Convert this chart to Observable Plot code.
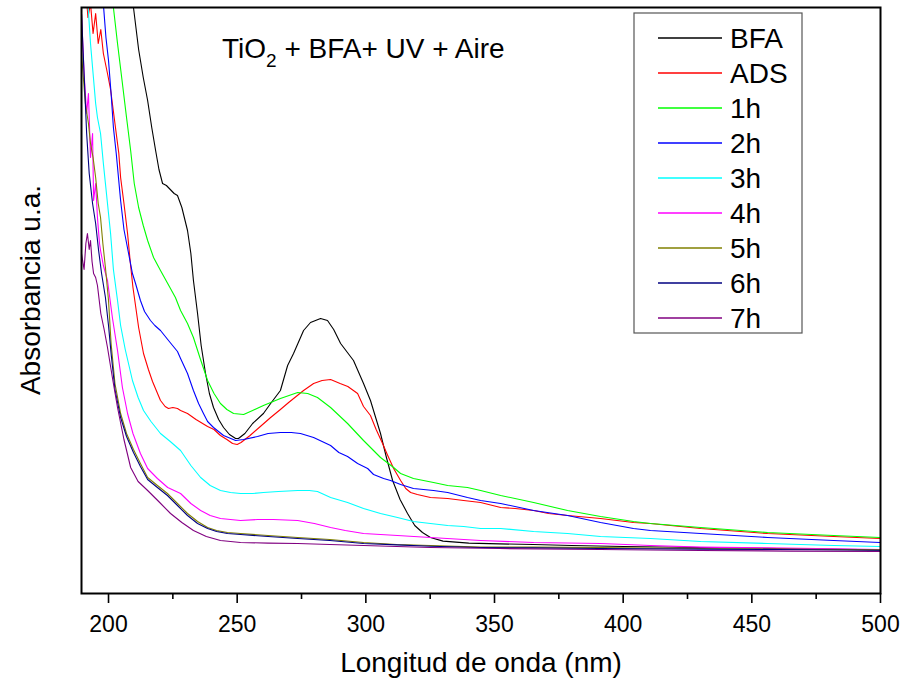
<!DOCTYPE html>
<html><head><meta charset="utf-8">
<script src="https://cdn.jsdelivr.net/npm/d3@7"></script>
<script src="https://cdn.jsdelivr.net/npm/@observablehq/plot@0.6"></script>
<style>body{margin:0;background:#fff} #chart{position:relative;width:904px;height:681px}</style>
</head><body><div id="chart"></div>
<script>
// Wavelength (nm), absorbance (arbitrary units) pairs
const BFA = [[189.5,4.6],[200,3.7],[205,3.25],[209.7,2.93],[211.7,2.72],[213.5,2.58],[215.2,2.465],[216.8,2.33],[218.3,2.215],[219.6,2.12],[221,2.05],[222.5,2.04],[224,2.02],[225.5,2.0],[226.8,1.99],[228.5,1.93],[230.7,1.815],[232,1.7],[233,1.565],[234.6,1.40],[236,1.24],[237.7,1.10],[239.2,1.0],[240.8,0.93],[242.8,0.87],[244.7,0.83],[247,0.795],[249.4,0.775],[250.5,0.775],[253,0.80],[256,0.85],[260.2,0.90],[263,0.95],[266.8,1.015],[269.6,1.14],[271.9,1.20],[275.8,1.315],[278.5,1.355],[282.4,1.375],[285.1,1.365],[287.5,1.32],[290.2,1.25],[295.2,1.165],[299.1,1.05],[301.8,0.965],[305.7,0.80],[308,0.68],[310.4,0.565],[313.3,0.47],[316.2,0.40],[319,0.34],[322,0.305],[325.1,0.28],[330,0.262],[340,0.252],[352,0.248],[365,0.245],[380,0.24],[400,0.235],[430,0.23],[460,0.225],[500,0.218]];
const ADS = [[189.5,3.3],[191,3.05],[192,2.88],[193,2.95],[194,2.8],[195,2.9],[196,2.75],[197,2.82],[198,2.70],[199.6,2.6],[200.8,2.52],[201.6,2.44],[202.7,2.33],[204,2.2],[204.7,2.08],[206,1.95],[207.4,1.80],[208.5,1.65],[209.5,1.53],[211.7,1.33],[213.6,1.20],[215.5,1.12],[217.1,1.06],[220.2,0.965],[222,0.935],[223.3,0.925],[225,0.93],[226.8,0.925],[228,0.915],[230.7,0.90],[234,0.87],[238.5,0.835],[241,0.82],[243.5,0.79],[246,0.77],[248.2,0.75],[250,0.745],[251.5,0.755],[255,0.79],[259,0.835],[263,0.88],[266.8,0.92],[270,0.955],[275.8,1.015],[279.7,1.05],[283,1.065],[286.3,1.07],[290,1.05],[293,1.035],[296.8,1.00],[299.1,0.935],[301.8,0.89],[304,0.82],[306.5,0.75],[308.5,0.69],[310.8,0.625],[313.5,0.565],[315.5,0.525],[317.4,0.505],[320,0.495],[325.1,0.48],[331.8,0.475],[338,0.465],[344.6,0.455],[352.4,0.43],[358,0.425],[365.2,0.415],[371,0.40],[378.4,0.39],[391.2,0.375],[404,0.355],[410.6,0.35],[430.1,0.325],[456.1,0.30],[481.8,0.285],[500,0.275]];
const H1 = [[189.5,4.2],[196,3.4],[201.9,2.93],[203.5,2.75],[205.4,2.55],[207,2.38],[208.6,2.215],[210,2.05],[211.7,1.93],[213.5,1.84],[215.2,1.765],[217.5,1.68],[220.2,1.615],[223,1.55],[226,1.48],[228,1.415],[230.7,1.35],[233,1.28],[235.5,1.18],[238.5,1.065],[241,1.0],[243.5,0.95],[246,0.92],[248.6,0.90],[252.5,0.895],[256,0.915],[260.2,0.94],[266.8,0.975],[273.5,1.005],[277.4,1.0],[281.2,0.98],[286.3,0.93],[292.9,0.85],[299.1,0.765],[305.7,0.68],[310.8,0.63],[313.5,0.60],[318.5,0.575],[326.3,0.555],[331.8,0.54],[339.5,0.53],[344.6,0.515],[352.4,0.49],[365.2,0.455],[378.4,0.415],[391.2,0.385],[404,0.36],[410.6,0.35],[430.1,0.33],[456.1,0.305],[481.8,0.29],[500,0.28]];
const H2 = [[189.5,3.7],[195,3.2],[198.1,2.93],[199,2.78],[200,2.665],[201,2.5],[201.9,2.33],[203,2.2],[204.7,1.965],[206,1.82],[207.8,1.70],[209.3,1.60],[210.5,1.55],[212.4,1.465],[214,1.41],[216.3,1.365],[218,1.34],[220.2,1.315],[223,1.27],[226.8,1.21],[228,1.175],[230.7,1.10],[233,1.015],[235,0.95],[236.9,0.90],[238.5,0.86],[240.8,0.83],[244.7,0.79],[249.4,0.765],[252.5,0.77],[257.9,0.785],[262,0.80],[266.8,0.805],[271,0.805],[274.6,0.80],[279.7,0.78],[283,0.76],[286.3,0.74],[289.5,0.705],[292.9,0.685],[296.8,0.65],[300.7,0.625],[303,0.595],[306.9,0.575],[309.6,0.565],[313.5,0.545],[318.5,0.525],[326.3,0.515],[331.8,0.505],[339.5,0.48],[344.6,0.465],[352.4,0.45],[365.2,0.415],[378.4,0.39],[391.2,0.355],[404,0.325],[410.6,0.315],[430.1,0.30],[456.1,0.28],[481.8,0.265],[500,0.255]];
const H3 = [[189.5,3.4],[191,3.1],[192,2.95],[193,2.75],[194,2.6],[195,2.45],[195.7,2.38],[196.9,2.30],[198,2.15],[198.8,2.05],[200,1.90],[200.8,1.80],[201.9,1.62],[203.5,1.465],[204.7,1.34],[206.5,1.22],[209.3,1.065],[211.5,0.98],[213.6,0.915],[216.5,0.86],[220.2,0.80],[224,0.76],[228,0.715],[232,0.64],[235.8,0.58],[239.5,0.54],[243.5,0.515],[247.4,0.505],[251.3,0.50],[256,0.50],[260.2,0.505],[266,0.51],[273.5,0.515],[278,0.515],[281.2,0.51],[286.3,0.48],[292.9,0.455],[299.1,0.425],[305.7,0.40],[312.3,0.38],[318.5,0.36],[325.1,0.35],[331.8,0.34],[338,0.335],[344.6,0.325],[352.4,0.325],[365.2,0.31],[378.4,0.30],[391.2,0.285],[410.6,0.275],[430.1,0.26],[456.1,0.25],[481.8,0.24],[500,0.235]];
const H4 = [[189.5,2.9],[190.5,2.6],[191.5,2.4],[192.2,2.5],[193,2.18],[193.8,2.3],[194.2,1.965],[195,2.05],[195.7,1.88],[196.5,1.75],[196.9,1.715],[198,1.64],[199.6,1.565],[201.5,1.38],[203.5,1.215],[205.4,1.03],[207.4,0.90],[209.5,0.80],[212.4,0.70],[215.2,0.625],[219,0.575],[223,0.53],[228,0.50],[232,0.45],[235.8,0.415],[239.5,0.39],[243.5,0.375],[251.3,0.365],[258,0.37],[264.1,0.37],[273.5,0.365],[280,0.35],[286.3,0.33],[292,0.315],[299.1,0.30],[305.7,0.295],[312.3,0.29],[325.1,0.28],[344.6,0.265],[365.2,0.255],[391.2,0.25],[410.6,0.24],[430.1,0.232],[456.1,0.228],[481.8,0.224],[500,0.22]];
const H5 = [[189.5,2.7],[191,2.45],[192.2,2.35],[193,2.25],[194,2.18],[195,2.08],[196,1.95],[196.9,1.88],[197.8,1.75],[198.8,1.63],[200,1.465],[201,1.25],[202.5,1.05],[204.7,0.90],[207,0.80],[209.7,0.72],[212.4,0.65],[215.2,0.58],[219,0.54],[222.9,0.50],[226.8,0.45],[230.7,0.40],[234.6,0.36],[238.5,0.33],[242,0.315],[246.2,0.305],[251.3,0.30],[262,0.29],[273.5,0.28],[286,0.27],[299.1,0.255],[312,0.245],[325.1,0.24],[344.6,0.232],[365,0.232],[391,0.23],[430,0.225],[460,0.222],[500,0.218]];
const H6 = [[189.5,2.9],[190.5,2.6],[191.5,2.3],[192.5,2.1],[193.8,1.95],[195,1.85],[196.1,1.72],[197.3,1.6],[198.8,1.48],[200,1.34],[201,1.2],[202.5,1.02],[204.7,0.88],[207,0.785],[209.7,0.705],[212.4,0.635],[215.2,0.57],[219,0.53],[222.9,0.49],[226.8,0.44],[230.7,0.39],[234.6,0.35],[238.5,0.325],[242,0.31],[246.2,0.30],[251.3,0.295],[262,0.285],[273.5,0.275],[286,0.265],[299.1,0.25],[312,0.243],[325.1,0.236],[344.6,0.23],[365,0.228],[391,0.225],[430,0.222],[460,0.22],[500,0.216]];
const H7 = [[189.5,1.7],[190.5,1.62],[191.2,1.75],[191.8,1.80],[192.5,1.72],[193,1.765],[193.6,1.66],[194.2,1.60],[195,1.58],[195.7,1.54],[197,1.40],[198.3,1.32],[199.6,1.23],[201.5,1.08],[203.5,0.93],[206,0.77],[208.6,0.63],[211.5,0.56],[215.2,0.515],[219.5,0.46],[224.1,0.40],[228.5,0.355],[233,0.315],[238,0.285],[243.5,0.265],[251.3,0.255],[262,0.252],[273.5,0.25],[286,0.245],[299.1,0.24],[312,0.235],[325.1,0.23],[352,0.225],[391,0.22],[430,0.215],[465,0.212],[500,0.21]];

const seriesNames = ["BFA","ADS","1h","2h","3h","4h","5h","6h","7h"];
const seriesData = [BFA, ADS, H1, H2, H3, H4, H5, H6, H7];
const seriesColors = ["#000000","#ff0000","#00ff00","#0000ff","#00ffff","#ff00ff","#808000","#000080","#800080"];
const majorTicks = [200,250,300,350,400,450,500];
const minorTicks = [225,275,325,375,425,475];
const titleMain = "TiO", titleSub = "2", titleRest = " + BFA+ UV + Aire";
const xLabel = "Longitud de onda (nm)";
const yLabel = "Absorbancia u.a.";

const rows = seriesNames.flatMap((name, i) => seriesData[i].map(([nm, a]) => ({series: name, nm, a})));
const FONT = "'Liberation Sans', Arial, Helvetica, sans-serif";

const plot = Plot.plot({
  width: 904, height: 681,
  marginLeft: 81, marginRight: 24, marginTop: 7, marginBottom: 88,
  x: {domain: [189.5, 500]},
  y: {domain: [0, 2.93]},
  color: {domain: seriesNames, range: seriesColors},
  style: {fontFamily: FONT, background: "#fff", color: "#000"},
  marks: [
    Plot.line(rows, {x: "nm", y: "a", z: "series", stroke: "series", strokeWidth: 1.1, clip: true}),
    Plot.axisX({ticks: majorTicks, tickSize: 10, tickPadding: 12, fontSize: 23, label: null, strokeWidth: 1.6, tickFormat: d => String(d)}),
    Plot.axisX({ticks: minorTicks, tickSize: 6, tickFormat: () => "", label: null, strokeWidth: 1.6}),
    Plot.axisY({ticks: [], label: null}),
    Plot.frame({stroke: "#000", strokeWidth: 2})
  ]
});
document.getElementById("chart").appendChild(plot);

const svg = d3.select(plot);
const deco = svg.append("g").attr("font-family", FONT).attr("fill", "#000").attr("text-anchor", "start");

// title
const t = deco.append("text").attr("x", 222).attr("y", 58).attr("font-size", 28).attr("text-anchor", "start");
t.append("tspan").text(titleMain);
t.append("tspan").attr("font-size", 19).attr("dy", 9).text(titleSub);
t.append("tspan").attr("dy", -9).text(titleRest);

// axis labels
deco.append("text").attr("x", 481).attr("y", 672).attr("text-anchor", "middle").attr("font-size", 28).text(xLabel);
deco.append("text").attr("transform", "translate(40,290) rotate(-90)").attr("text-anchor", "middle").attr("font-size", 28).text(yLabel);

// legend
const lg = deco.append("g");
lg.append("rect").attr("x", 634).attr("y", 13).attr("width", 168).attr("height", 320)
  .attr("fill", "#fff").attr("stroke", "#555").attr("stroke-width", 1.2);
seriesNames.forEach((name, i) => {
  const cy = 38 + 35 * i;
  lg.append("line").attr("x1", 658).attr("x2", 722).attr("y1", cy).attr("y2", cy)
    .attr("stroke", seriesColors[i]).attr("stroke-width", 1.4);
  lg.append("text").attr("x", 730).attr("y", cy + 10).attr("font-size", 28).attr("text-anchor", "start").text(name);
});
</script>
</body></html>
